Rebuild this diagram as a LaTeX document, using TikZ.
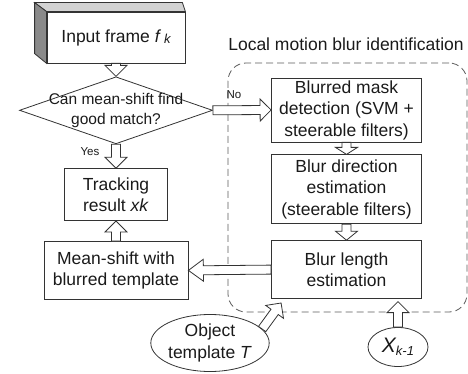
\documentclass[tikz,border=0pt]{standalone}
\usepackage{fontspec}
\setmainfont{Liberation Sans}
\usetikzlibrary{shapes.geometric,positioning,calc}

\definecolor{linecol}{HTML}{333333}
\definecolor{textcol}{HTML}{1a1a1a}
\definecolor{sidecol}{HTML}{8a8a8a}
\definecolor{topcol}{HTML}{d2d2d2}

\newcommand{\boxfont}{\fontsize{17.5}{21.5}\selectfont}
\newcommand{\askfont}{\fontsize{15.5}{20}\selectfont}
\newcommand{\tagfont}{\fontsize{11.5}{13}\selectfont}

\begin{document}
\begin{tikzpicture}[%
    x=1pt, y=-1pt,              % pixel-like units, y grows downwards
    node distance=12pt,         % default gap between stacked boxes
    ]
% -------------------------------------------------
% A few box styles
\tikzset{
  base/.style={draw=linecol, line width=0.8pt, text=textcol, align=center,
    inner sep=0pt, font=\boxfont},
  proc/.style={base, rectangle, minimum width=150pt},
  test/.style={base, diamond, minimum width=193pt, minimum height=67pt},
  data/.style={base, ellipse},
  face/.style={draw=linecol, line width=0.8pt},
  caption/.style={text=textcol, inner sep=0pt, font=\boxfont},
  tag/.style={text=textcol, inner sep=0pt, font=\tagfont},
  region/.style={draw=linecol!80, line width=0.8pt, dash pattern=on 7pt off 4pt,
    rounded corners=18pt, minimum width=239pt, minimum height=249pt},
  % Hollow block arrow from start to target
  head len/.store in=\headlen, head len=11pt,
  hollow/.style={draw=linecol, fill=white, line width=0.8pt, to path={
    let \p1=(\tikztostart), \p2=(\tikztotarget),
        \n1={atan2(\y2-\y1,\x2-\x1)}, \n2={veclen(\x2-\x1,\y2-\y1)} in
    [shift={(\p1)}, rotate=\n1]
    (0pt,-4.5pt) -- ({\n2*1pt-\headlen},-4.5pt) -- ({\n2*1pt-\headlen},-11pt)
    -- ({\n2*1pt},0pt) -- ({\n2*1pt-\headlen},11pt) -- ({\n2*1pt-\headlen},4.5pt)
    -- (0pt,4.5pt) -- cycle}},
}
\useasboundingbox (0,0) rectangle (468,374);
% -------------------------------------------------
% The blur identification region first, so arrows sit on top
\node [region] (blurid) at (347.5,187.5) {};
\node [caption] (title) at (346,44) {Local motion blur identification};

% Left column
\node [proc, minimum width=138pt, minimum height=51pt] (frame) at (116,37.5)
  {Input frame \textit{f}\,\raisebox{-1pt}{\fontsize{13}{13}\selectfont\itshape k}};
\node [test, below=13pt of frame,
  label={[font=\askfont, text=textcol, align=center]center:Can mean-shift find\\good match?}]
  (match) {};
\node [proc, minimum width=103pt, minimum height=52pt, below=24pt of match] (track)
  {Tracking\\result \textit{xk}};
\node [proc, minimum width=144pt, minimum height=58pt, below=20pt of track] (mean)
  {Mean-shift with\\blurred template};

% Right column
\node [proc, minimum height=64pt] (mask) at (346.5,110)
  {Blurred mask\\detection (SVM +\\steerable filters)};
\node [proc, minimum height=69pt, below=12pt of mask] (dir)
  {Blur direction\\estimation\\(steerable filters)};
\node [proc, minimum height=58pt, below=16pt of dir] (len)
  {Blur length\\estimation};

% Inputs at the bottom
\node [data, minimum width=116pt, minimum height=57pt] (obj) at (210,343)
  {Object\\template \textit{T}};
\node [data, minimum width=60pt, minimum height=39pt] (prev) at (398,347)
  {{\fontsize{21}{21}\selectfont\itshape X}\raisebox{-3pt}{\fontsize{13}{13}\selectfont\itshape k-1}};

% 3D faces of the input frame
\draw [face, fill=topcol] (frame.north west) -- ++(-12,-9)
  -- ([xshift=-3pt, yshift=9pt]frame.north east) -- (frame.north east) -- cycle;
\draw [face, fill=sidecol] (frame.north west) -- ++(-12,-9) -- ++(0,51)
  -- (frame.south west) -- cycle;

% -------------------------------------------------
% Connectors
\coordinate (objtip) at ([xshift=10pt, yshift=-4pt]len.south west);
\coordinate (prevtip) at ([yshift=25.5pt]prev.north);

\draw [hollow] (frame.south) to (match.north);
\draw [hollow] (match.east) to (mask.west);
\draw [hollow] (match.south) to (track.north);
\draw [hollow, head len=7pt] (mask.south) to (dir.north);
\draw [hollow, head len=9pt] (dir.south) to (len.north);
\draw [hollow, head len=15pt] (len.west) to (mean.east);
\draw [hollow] (mean.north) to (track.south);
\draw [hollow] (obj.15) to (objtip);
\draw [hollow] (prev.north) to (prevtip);

\node [tag] (no) at (234,95) {No};
\node [tag] (yes) at (90,152) {Yes};
% -------------------------------------------------
\end{tikzpicture}
\end{document}
